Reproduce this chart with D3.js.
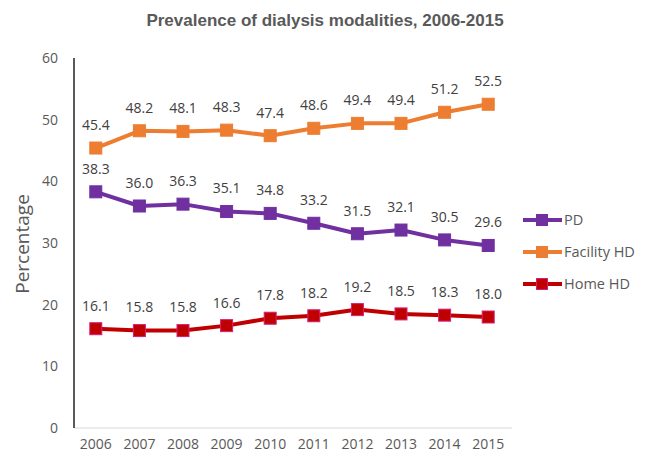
<!DOCTYPE html>
<html lang="en">
<head>
<meta charset="UTF-8" />
<title>Prevalence of dialysis modalities</title>
<style>
  body { margin: 0; background: #fff; }
  svg text { font-family: 'Open Sans', 'Liberation Sans', sans-serif; }
  .title { font-family: 'Liberation Sans', Arial, sans-serif; font-weight: 700; font-size: 17px; fill: #595959; }
  .tick-label { font-size: 14px; fill: #595959; }
  .data-label { font-size: 14px; fill: #404040; }
  .legend-label { font-size: 14.5px; fill: #595959; }
</style>
</head>
<body>
<svg id="chart" width="649" height="457"></svg>
<script src="https://cdn.jsdelivr.net/npm/d3@7"></script>
<script>
const years = ["2006","2007","2008","2009","2010","2011","2012","2013","2014","2015"];
const pd = [38.3, 36.0, 36.3, 35.1, 34.8, 33.2, 31.5, 32.1, 30.5, 29.6];
const facilityHD = [45.4, 48.2, 48.1, 48.3, 47.4, 48.6, 49.4, 49.4, 51.2, 52.5];
const homeHD = [16.1, 15.8, 15.8, 16.6, 17.8, 18.2, 19.2, 18.5, 18.3, 18.0];
const yTicks = [0, 10, 20, 30, 40, 50, 60];

const series = [
  { name: "PD", values: pd, color: "#7030a0", stroke: "#7030a0" },
  { name: "Facility HD", values: facilityHD, color: "#ed7d31", stroke: "#ed7d31" },
  { name: "Home HD", values: homeHD, color: "#c00000", stroke: "#d4207a" }
];

const svg = d3.select("#chart");
const plotLeft = 74, plotRight = 510, plotTop = 58, plotBottom = 428;

const x = d3.scalePoint().domain(years).range([plotLeft, plotRight]).padding(0.5);
const y = d3.scaleLinear().domain([0, 60]).range([plotBottom, plotTop]);

svg.append("text").attr("class", "title")
  .attr("x", 325).attr("y", 26).attr("text-anchor", "middle")
  .text("Prevalence of dialysis modalities, 2006-2015");

// baseline
svg.append("line").attr("x1", plotLeft).attr("x2", plotRight + 2)
  .attr("y1", y(0)).attr("y2", y(0)).attr("stroke", "#d9d9d9").attr("stroke-width", 1);
// y axis line
svg.append("line").attr("x1", plotLeft).attr("x2", plotLeft)
  .attr("y1", y(60)).attr("y2", y(0)).attr("stroke", "#000").attr("stroke-width", 1.3);

svg.selectAll(".ytick").data(yTicks).enter().append("text")
  .attr("class", "tick-label")
  .attr("x", 58).attr("y", d => y(d)).attr("dy", "0.35em")
  .attr("text-anchor", "end").text(d => d);

svg.selectAll(".xtick").data(years).enter().append("text")
  .attr("class", "tick-label")
  .attr("x", d => x(d)).attr("y", 449)
  .attr("text-anchor", "middle").text(d => d);

svg.append("text").attr("class", "tick-label")
  .attr("transform", "translate(29,244) rotate(-90)")
  .attr("text-anchor", "middle").style("font-size", "19px")
  .text("Percentage");

const line = d3.line().x((d, i) => x(years[i])).y(d => y(d));
const ms = 12;

series.forEach(s => {
  svg.append("path").attr("d", line(s.values))
    .attr("fill", "none").attr("stroke", s.color).attr("stroke-width", 4)
    .attr("stroke-linejoin", "round");
  svg.selectAll(null).data(s.values).enter().append("rect")
    .attr("x", (d, i) => x(years[i]) - ms / 2)
    .attr("y", d => y(d) - ms / 2)
    .attr("width", ms).attr("height", ms)
    .attr("fill", s.color).attr("stroke", s.stroke).attr("stroke-width", 1);
  svg.selectAll(null).data(s.values).enter().append("text")
    .attr("class", "data-label")
    .attr("x", (d, i) => x(years[i])).attr("y", d => y(d) - 23)
    .attr("dy", "0.35em").attr("text-anchor", "middle")
    .text(d => d.toFixed(1));
});

const legend = svg.append("g");
series.forEach((s, i) => {
  const ly = 220 + i * 32;
  legend.append("line").attr("x1", 523).attr("x2", 562).attr("y1", ly).attr("y2", ly)
    .attr("stroke", s.color).attr("stroke-width", 4);
  legend.append("rect").attr("x", 542 - 5.5).attr("y", ly - 5.5)
    .attr("width", 11).attr("height", 11)
    .attr("fill", s.color).attr("stroke", s.stroke);
  legend.append("text").attr("class", "legend-label")
    .attr("x", 564).attr("y", ly).attr("dy", "0.35em").text(s.name);
});
</script>
</body>
</html>
